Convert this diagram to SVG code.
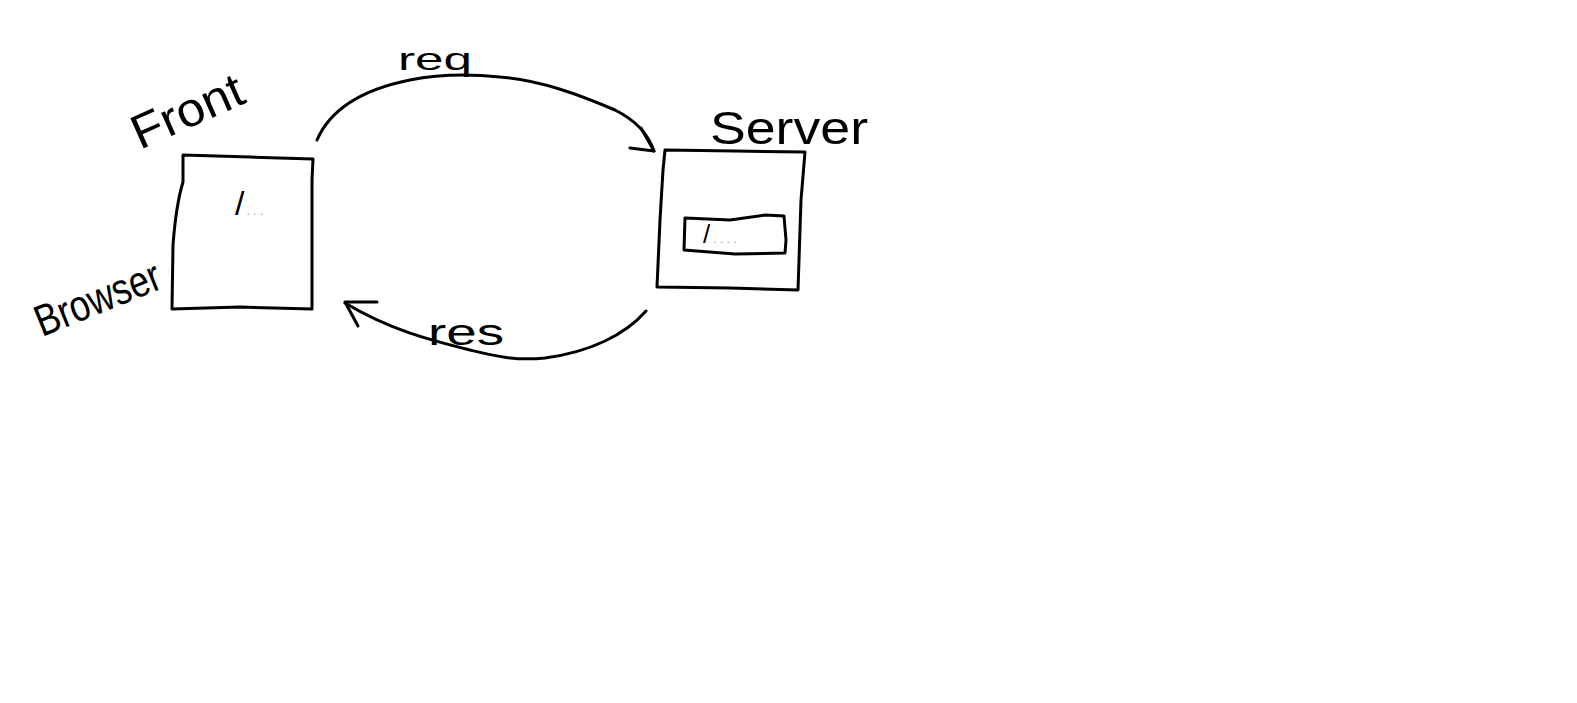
<svg xmlns="http://www.w3.org/2000/svg" width="1577" height="703" viewBox="0 0 1577 703">
<style>
.s{fill:none;stroke:#000;stroke-width:3;stroke-linejoin:round;stroke-linecap:round}
.box{fill:#fff;stroke:#000;stroke-width:3;stroke-linejoin:round}
.t{font-family:"Liberation Sans",Arial,sans-serif;fill:#000}
.dots{fill:#999;font-size:12px}
</style>
<rect width="1577" height="703" fill="#fff"/>
<g id="browser">
<path class="box" d="M183,155 L250,157 L313,159 L312,180 L312,309 L240,307 L172,309 L173,245 Q176,205 183,182 Z"/>
<text class="t" x="235" y="215" font-size="34">/<tspan class="dots" dx="2">. . .</tspan></text>
<text class="t" font-size="48" transform="translate(140,150) rotate(-24)" textLength="118" lengthAdjust="spacingAndGlyphs">Front</text>
<text class="t" font-size="44" transform="translate(42,337) rotate(-22)" textLength="132" lengthAdjust="spacingAndGlyphs">Browser</text>
</g>
<g id="server">
<path class="box" d="M665,150 L735,151 L805,152 L801,200 L798,290 L730,288 L657,287 L660,220 L663,170 Z"/>
<path class="box" d="M685,218 L730,220 L765,215 L784,216 L786,240 L785,253 L735,254 L684,250 Z"/>
<text class="t" x="703" y="243" font-size="26">/<tspan class="dots" dx="3">. . . .</tspan></text>
<text class="t" x="710" y="144" font-size="46" textLength="158" lengthAdjust="spacingAndGlyphs">Server</text>
</g>
<g id="connectors">
<path class="s" d="M317,140 C330,110 360,90 410,80 C440,74 470,74 500,77 C540,80 580,95 615,110 C635,120 648,133 654,151"/>
<path class="s" d="M641,128 L654,151 L630,148"/>
<path class="s" d="M646,311 C625,335 590,352 545,358 C515,361 495,356 470,350 C430,340 390,330 345,303"/>
<path class="s" d="M377,302 L345,302 L358,326"/>
</g>
<g id="labels">
<text class="t" x="398" y="70" font-size="32" textLength="74" lengthAdjust="spacingAndGlyphs">req</text>
<text class="t" x="428" y="345" font-size="36" textLength="76" lengthAdjust="spacingAndGlyphs">res</text>
</g>
</svg>
